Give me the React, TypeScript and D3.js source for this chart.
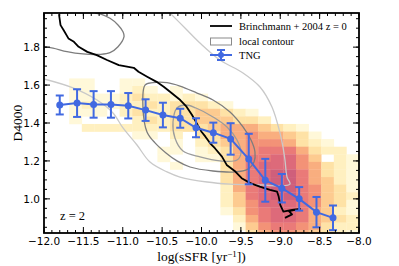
import React from "react";
import * as d3 from "d3";

// TNG median D4000 in bins of sSFR, with 1-sigma scatter
const tngSSFR = [-11.8, -11.58, -11.37, -11.15, -10.93, -10.71, -10.49, -10.27, -10.07, -9.85, -9.63, -9.4, -9.19, -8.98, -8.76, -8.54, -8.33];
const tngD4000 = [1.495, 1.505, 1.498, 1.498, 1.491, 1.468, 1.442, 1.425, 1.375, 1.349, 1.316, 1.21, 1.098, 1.056, 1.0, 0.93, 0.9];
const tngErr = [0.05, 0.073, 0.07, 0.07, 0.067, 0.057, 0.065, 0.05, 0.05, 0.053, 0.083, 0.133, 0.113, 0.075, 0.062, 0.08, 0.065];

// Brinchmann+2004 z=0 relation
const brSSFR = [-11.81, -11.79, -11.75, -11.69, -11.62, -11.56, -11.45, -11.33, -11.2, -11.05, -10.86, -10.8, -10.69, -10.57, -10.48, -10.4, -10.27, -10.19, -10.12, -10.06, -10.0, -9.95, -9.89, -9.83, -9.74, -9.68, -9.57, -9.49, -9.38, -9.26, -9.13, -9.04, -9.02, -9.0, -8.96, -8.85, -8.75, -8.89, -8.85, -8.94];
const brD4000 = [1.974, 1.916, 1.889, 1.846, 1.828, 1.802, 1.775, 1.758, 1.732, 1.705, 1.691, 1.67, 1.644, 1.617, 1.591, 1.565, 1.521, 1.486, 1.442, 1.398, 1.354, 1.328, 1.293, 1.267, 1.223, 1.179, 1.144, 1.109, 1.083, 1.065, 1.047, 1.038, 1.012, 0.968, 0.933, 0.942, 0.947, 0.935, 0.918, 0.9];

// local (SDSS) contours
const outerSSFR = [-10.4, -10.21, -10.02, -9.765, -9.473, -9.257, -9.105, -9.003, -8.965, -8.94, -8.914, -8.876, -9.003, -9.219, -9.638, -9.93, -10.273, -10.438, -10.654, -10.819, -10.997, -11.124, -11.327, -11.632, -12.0];
const outerD4000 = [1.98, 1.901, 1.822, 1.732, 1.664, 1.59, 1.484, 1.347, 1.273, 1.205, 1.115, 1.078, 1.068, 1.073, 1.078, 1.089, 1.115, 1.142, 1.194, 1.284, 1.374, 1.453, 1.521, 1.585, 1.632];
const passiveSSFR = [-12.0, -11.886, -11.708, -11.505, -11.289, -11.162, -11.06, -10.984, -10.997, -11.06, -11.162, -11.289, -11.352];
const passiveD4000 = [1.801, 1.795, 1.776, 1.764, 1.762, 1.771, 1.802, 1.855, 1.881, 1.917, 1.952, 1.975, 1.98];
const sfOuterSSFR = [-10.717, -10.616, -10.438, -10.273, -10.057, -9.854, -9.638, -9.473, -9.371, -9.321, -9.333, -9.41, -9.575, -9.854, -10.146, -10.311, -10.451, -10.59, -10.692, -10.743];
const sfOuterD4000 = [1.6, 1.613, 1.613, 1.595, 1.558, 1.521, 1.458, 1.379, 1.31, 1.247, 1.194, 1.157, 1.142, 1.147, 1.168, 1.2, 1.242, 1.295, 1.353, 1.479];
const sfInnerSSFR = [-10.311, -10.197, -10.07, -9.854, -9.676, -9.549, -9.498, -9.549, -9.765, -10.019, -10.235, -10.337, -10.362];
const sfInnerD4000 = [1.479, 1.495, 1.479, 1.432, 1.379, 1.31, 1.242, 1.205, 1.2, 1.221, 1.252, 1.321, 1.405];

// TNG 2D histogram, 25 sSFR bins (-12..-8), rows of D4000 bins from top (1.675) down
const histX0 = -12;
const histDX = 0.16;
const histYTop = 1.675;
const histDY = 0.04;
const histRows = [
  "0000000000000000000000000",
  "0011001100000000000000000",
  "0011001210100000000000000",
  "0011112322121000000000000",
  "0012112232333210000000000",
  "0011102322334432100000000",
  "0010000232334443320000000",
  "0002222222333455543210000",
  "0000000110203355655431000",
  "0000000000102345666532100",
  "0000000001101235677753220",
  "0000000001001135778864021",
  "0000000000100035788865321",
  "0000000000000035789975321",
  "0000000000000035789975421",
  "0000000000000025789976431",
  "0000000000000024789976432",
  "0000000000000024688876431",
  "0000000000000013678875421",
  "0000000000000002578875432",
  "0000000000000001467765322",
  "0000000000000000356654321",
];
const levelColors = ["none", "#fff8d9", "#fff0c0", "#fee2a6", "#fdcb90", "#f9ae7f", "#f39277", "#ea7a78", "#dd6a7a", "#cf5f7b"];

const xMajor = d3.range(-12, -7.99, 0.5);
const xMinor = d3.range(-12, -7.99, 0.1);
const yMajor = [1.0, 1.2, 1.4, 1.6, 1.8];
const yMinor = d3.range(0.85, 1.98, 0.05);

const pairs = (xs: number[], ys: number[]) => xs.map((v, i) => [v, ys[i]] as [number, number]);

export default function App() {
  const x = d3.scaleLinear().domain([-12, -8]).range([44, 359]);
  const y = d3.scaleLinear().domain([0.82, 1.98]).range([233, 13]);
  const [x0, x1] = x.range();
  const [y0, y1] = y.range();

  const lin = d3.line<[number, number]>().x(d => x(d[0])).y(d => y(d[1]));
  const smooth = d3.line<[number, number]>().x(d => x(d[0])).y(d => y(d[1])).curve(d3.curveCatmullRom);
  const closed = d3.line<[number, number]>().x(d => x(d[0])).y(d => y(d[1])).curve(d3.curveCatmullRomClosed);

  const cells: JSX.Element[] = [];
  histRows.forEach((row, r) => {
    row.split("").forEach((ch, c) => {
      const lv = +ch;
      if (!lv) return;
      const xa = x(histX0 + c * histDX);
      const xb = x(histX0 + (c + 1) * histDX);
      const ya = y(histYTop - r * histDY);
      const yb = y(histYTop - (r + 1) * histDY);
      cells.push(<rect key={`${r}-${c}`} x={xa} y={ya} width={xb - xa + 0.3} height={yb - ya + 0.3} fill={levelColors[lv]} />);
    });
  });

  const fmt = d3.format(".1f");
  const blue = "#4169e1";
  const serif = "'Liberation Serif', 'DejaVu Serif', serif";
  const sans = "'DejaVu Sans', sans-serif";

  return (
    <svg width={399} height={266} style={{ position: "absolute", left: 0, top: 0 }} xmlns="http://www.w3.org/2000/svg">
      <defs>
        <clipPath id="plot">
          <rect x={x0} y={y1} width={x1 - x0} height={y0 - y1} />
        </clipPath>
      </defs>
      <rect width={399} height={266} fill="#fff" />
      <g clipPath="url(#plot)">
        {cells}
        <path d={smooth(pairs(outerSSFR, outerD4000)) || ""} fill="none" stroke="#c9c9c9" strokeWidth={1.3} />
        <path d={smooth(pairs(passiveSSFR, passiveD4000)) || ""} fill="none" stroke="#7d7d7d" strokeWidth={1.3} />
        <path d={closed(pairs(sfOuterSSFR, sfOuterD4000)) || ""} fill="none" stroke="#7d7d7d" strokeWidth={1.3} />
        <path d={closed(pairs(sfInnerSSFR, sfInnerD4000)) || ""} fill="none" stroke="#9c9c9c" strokeWidth={1.3} />
        <path d={lin(pairs(brSSFR, brD4000)) || ""} fill="none" stroke="#000" strokeWidth={1.8} strokeLinejoin="round" />
        <path d={lin(pairs(tngSSFR, tngD4000)) || ""} fill="none" stroke={blue} strokeWidth={2} />
        {tngSSFR.map((s, i) => (
          <g key={i} stroke={blue} strokeWidth={2}>
            <line x1={x(s)} x2={x(s)} y1={y(tngD4000[i] - tngErr[i])} y2={y(tngD4000[i] + tngErr[i])} />
            <line x1={x(s) - 4} x2={x(s) + 4} y1={y(tngD4000[i] - tngErr[i])} y2={y(tngD4000[i] - tngErr[i])} />
            <line x1={x(s) - 4} x2={x(s) + 4} y1={y(tngD4000[i] + tngErr[i])} y2={y(tngD4000[i] + tngErr[i])} />
            <circle cx={x(s)} cy={y(tngD4000[i])} r={3.5} fill={blue} stroke="none" />
          </g>
        ))}
      </g>

      {/* ticks, all inward */}
      <g stroke="#000" strokeWidth={1}>
        {xMinor.map((v, i) => (
          <g key={"xm" + i}>
            <line x1={x(v)} x2={x(v)} y1={y0} y2={y0 - 3} />
            <line x1={x(v)} x2={x(v)} y1={y1} y2={y1 + 3} />
          </g>
        ))}
        {xMajor.map((v, i) => (
          <g key={"xM" + i}>
            <line x1={x(v)} x2={x(v)} y1={y0} y2={y0 - 6} />
            <line x1={x(v)} x2={x(v)} y1={y1} y2={y1 + 6} />
          </g>
        ))}
        {yMinor.map((v, i) => (
          <g key={"ym" + i}>
            <line x1={x0} x2={x0 + 3} y1={y(v)} y2={y(v)} />
            <line x1={x1} x2={x1 - 3} y1={y(v)} y2={y(v)} />
          </g>
        ))}
        {yMajor.map((v, i) => (
          <g key={"yM" + i}>
            <line x1={x0} x2={x0 + 6} y1={y(v)} y2={y(v)} />
            <line x1={x1} x2={x1 - 6} y1={y(v)} y2={y(v)} />
          </g>
        ))}
      </g>
      <rect x={x0} y={y1} width={x1 - x0} height={y0 - y1} fill="none" stroke="#000" strokeWidth={1.8} />

      <g fontFamily={sans} fontSize={10.5} fill="#000">
        {xMajor.map((v, i) => (
          <text key={"xl" + i} x={x(v)} y={y0 + 12} textAnchor="middle">{fmt(v)}</text>
        ))}
        {yMajor.map((v, i) => (
          <text key={"yl" + i} x={x0 - 4} y={y(v) + 4} textAnchor="end">{fmt(v)}</text>
        ))}
      </g>

      <g fontFamily={serif} fill="#000">
        <text x={(x0 + x1) / 2} y={261} textAnchor="middle" fontSize={13.5}>
          log(sSFR [yr<tspan dy={-4.5} fontSize={9}>−1</tspan><tspan dy={4.5}>])</tspan>
        </text>
        <text transform={`translate(22,${(y0 + y1) / 2}) rotate(-90)`} textAnchor="middle" fontSize={13.5}>D4000</text>
        <text x={60} y={220} fontSize={12.5}>z = 2</text>
      </g>

      {/* legend */}
      <g fontFamily={serif} fontSize={10.5} fill="#000">
        <line x1={210} x2={232} y1={26} y2={26} stroke="#000" strokeWidth={1.8} />
        <text x={239} y={29.5}>Brinchmann + 2004 z = 0</text>
        <rect x={210.5} y={38} width={21} height={7} fill="#fff" stroke="#8a8a8a" strokeWidth={1} />
        <text x={239} y={45}>local contour</text>
        <line x1={210} x2={232} y1={55} y2={55} stroke={blue} strokeWidth={2} />
        <line x1={221} x2={221} y1={50} y2={60} stroke={blue} strokeWidth={2} />
        <line x1={217} x2={225} y1={50} y2={50} stroke={blue} strokeWidth={2} />
        <line x1={217} x2={225} y1={60} y2={60} stroke={blue} strokeWidth={2} />
        <circle cx={221} cy={55} r={3} fill={blue} />
        <text x={239} y={59}>TNG</text>
      </g>
    </svg>
  );
}
